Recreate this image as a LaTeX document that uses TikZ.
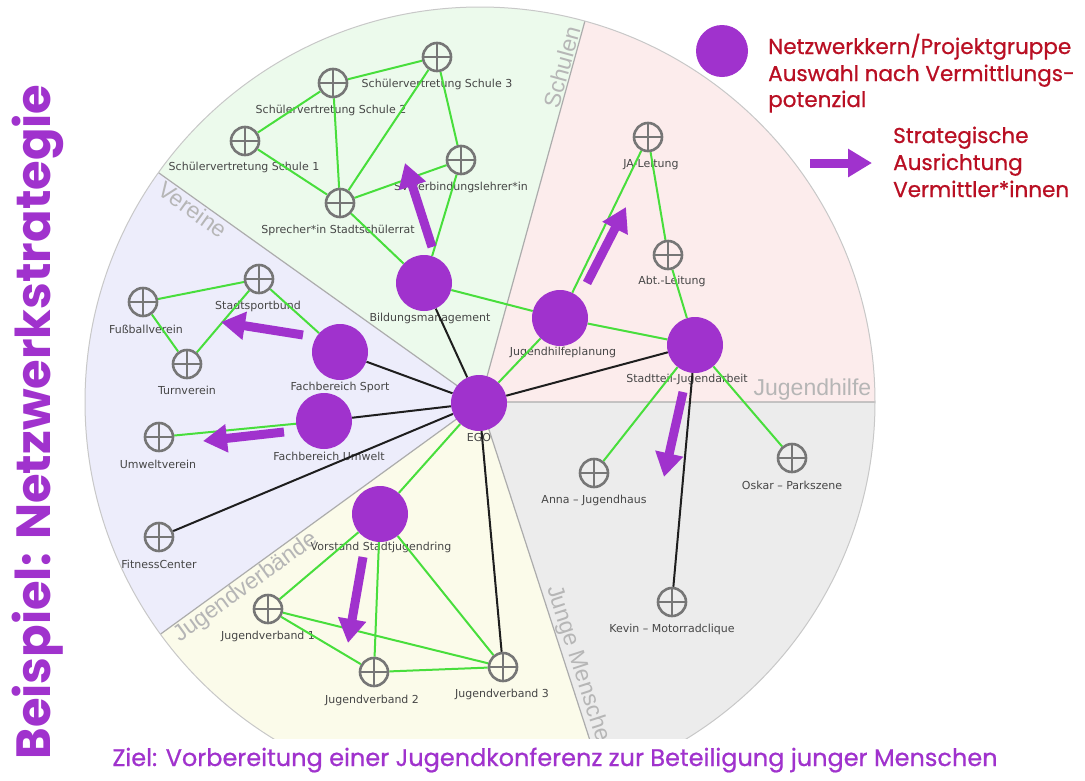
\documentclass[tikz,border=0pt]{standalone}
\usepackage{fontspec}
\setmainfont{DejaVu Sans}
\newfontfamily\popfont{Poppins}
\newfontfamily\popmed{Poppins}[FakeBold=0.7]
\newfontfamily\helv{Liberation Sans}
\usetikzlibrary{arrows.meta}
\pgfdeclarelayer{bg}
\pgfdeclarelayer{lbl}
\pgfdeclarelayer{edge}
\pgfsetlayers{bg,lbl,edge,main}
\definecolor{purp}{RGB}{160,50,205}
\definecolor{dred}{RGB}{185,15,35}
\definecolor{grn}{RGB}{72,222,60}
\definecolor{blk}{RGB}{30,30,30}
\definecolor{nodegray}{RGB}{118,118,118}
\definecolor{labgray}{RGB}{70,70,70}
\definecolor{secline}{RGB}{172,172,172}
\definecolor{circline}{RGB}{200,200,200}
\definecolor{seclabel}{RGB}{182,182,182}
\definecolor{cschule}{RGB}{236,250,236}
\definecolor{cjh}{RGB}{252,236,236}
\definecolor{cver}{RGB}{237,237,251}
\definecolor{cjv}{RGB}{251,251,234}
\definecolor{cjm}{RGB}{236,236,236}
\tikzset{
  actor/.style={circle, draw=nodegray, line width=2.6pt, minimum size=28pt, inner sep=0pt,
    path picture={\draw[nodegray,line width=2.4pt] (path picture bounding box.north) -- (path picture bounding box.south) (path picture bounding box.west) -- (path picture bounding box.east);}},
  core/.style={circle, fill=purp, minimum size=56pt, inner sep=0pt},
  nlabel/.style={font=\fontsize{11}{13}\selectfont, text=labgray, inner sep=0pt},
  gedge/.style={draw=grn, line width=2pt},
  bedge/.style={draw=blk, line width=2pt},
  strat/.style={draw=purp, line width=9pt, -{Triangle[length=24pt,width=27pt]}},
  sector/.style={font=\helv\fontsize{23}{23}\selectfont, text=seclabel, inner sep=1.5pt},
  legend/.style={font=\popmed\fontsize{21.5}{21.5}\selectfont, text=dred, inner sep=0pt, anchor=base west},
}
\begin{document}
\begin{tikzpicture}[x=1pt,y=-1pt]
\useasboundingbox (0,0) rectangle (1085,780);
\begin{pgfonlayer}{bg}
\fill[white] (0,0) rectangle (1085,780);
\begin{scope}
\clip (0,0) rectangle (1085,738);
\begin{scope}[shift={(480,402)}, y=1pt]
\clip (0,0) circle[radius=395pt];
\fill[cjh] (0,0) -- (0:600) arc[start angle=0,end angle=74.6,radius=600pt] -- cycle;
\fill[cschule] (0,0) -- (74.6:600) arc[start angle=74.6,end angle=144.5,radius=600pt] -- cycle;
\fill[cver] (0,0) -- (144.5:600) arc[start angle=144.5,end angle=216,radius=600pt] -- cycle;
\fill[cjv] (0,0) -- (216:600) arc[start angle=216,end angle=288,radius=600pt] -- cycle;
\fill[cjm] (0,0) -- (288:600) arc[start angle=288,end angle=360,radius=600pt] -- cycle;
\draw[secline, line width=1.2pt] (0,0) -- (0:400) (0,0) -- (74.6:400) (0,0) -- (144.5:400) (0,0) -- (216:400) (0,0) -- (288:400);
\node[sector, rotate=74.6, anchor=south east] (lschulen) at (74.6:388) {Schulen};
\node[sector, rotate=-35.5, anchor=north west] (lvereine) at (144.5:386) {Vereine};
\node[sector, anchor=south east] (ljh) at (0:393) {Jugendhilfe};
\node[sector, rotate=36, anchor=north west] (ljv) at (216:386) {Jugendverbände};
\node[sector, rotate=-72, anchor=south west] (ljm) at (288:196) {Junge Menschen};
\end{scope}
\draw[circline, line width=1pt] (480,402) circle[radius=395pt];
\end{scope}
\end{pgfonlayer}

% core nodes
\node[core] (ego) at (479,403) {};
\node[core] (bil) at (424,283) {};
\node[core] (jhp) at (560,318) {};
\node[core] (stj) at (695,345) {};
\node[core] (fbs) at (340,352) {};
\node[core] (fbu) at (324,421) {};
\node[core] (vor) at (380,514) {};
% actors
\node[actor] (s3) at (437,57) {};
\node[actor] (s2) at (333,83) {};
\node[actor] (s1) at (245,141) {};
\node[actor] (spr) at (340,203) {};
\node[actor] (sv) at (461,160) {};
\node[actor] (ja) at (648,137) {};
\node[actor] (abt) at (668,255) {};
\node[actor] (anna) at (594,473) {};
\node[actor] (oskar) at (792,458) {};
\node[actor] (kevin) at (672,602) {};
\node[actor] (ssb) at (259,279) {};
\node[actor] (fuss) at (143,302) {};
\node[actor] (turn) at (187,364) {};
\node[actor] (umv) at (159,437) {};
\node[actor] (fit) at (159,537) {};
\node[actor] (jv1) at (268,609) {};
\node[actor] (jv2) at (374,672) {};
\node[actor] (jv3) at (503,667) {};

\begin{pgfonlayer}{lbl}
\node[nlabel] (ego-l) at (479,437) {EGO};
\node[nlabel] (bil-l) at (430,318) {Bildungsmanagement};
\node[nlabel] (jhp-l) at (563,352) {Jugendhilfeplanung};
\node[nlabel] (stj-l) at (687,379) {Stadtteil-Jugendarbeit};
\node[nlabel] (fbs-l) at (340,387) {Fachbereich Sport};
\node[nlabel] (fbu-l) at (329,456) {Fachbereich Umwelt};
\node[nlabel] (vor-l) at (381,547) {Vorstand Stadtjugendring};
\node[nlabel] (s3-l) at (437,84) {Schülervertretung Schule 3};
\node[nlabel] (s2-l) at (331,110) {Schülervertretung Schule 2};
\node[nlabel] (s1-l) at (244,167) {Schülervertretung Schule 1};
\node[nlabel] (spr-l) at (338,230) {Sprecher*in Stadtschülerrat};
\node[nlabel] (sv-l) at (461,187) {SV-Verbindungslehrer*in};
\node[nlabel] (ja-l) at (651,164) {JA-Leitung};
\node[nlabel] (abt-l) at (672,281) {Abt.-Leitung};
\node[nlabel] (anna-l) at (594,500) {Anna – Jugendhaus};
\node[nlabel] (oskar-l) at (792,485) {Oskar – Parkszene};
\node[nlabel] (kevin-l) at (672,629) {Kevin – Motorradclique};
\node[nlabel] (ssb-l) at (258,306) {Stadtsportbund};
\node[nlabel] (fuss-l) at (146,329) {Fußballverein};
\node[nlabel] (turn-l) at (187,390) {Turnverein};
\node[nlabel] (umv-l) at (158,464) {Umweltverein};
\node[nlabel] (fit-l) at (159,564) {FitnessCenter};
\node[nlabel] (jv1-l) at (268,636) {Jugendverband 1};
\node[nlabel] (jv2-l) at (372,700) {Jugendverband 2};
\node[nlabel] (jv3-l) at (502,694) {Jugendverband 3};
\end{pgfonlayer}

\begin{pgfonlayer}{edge}
\draw[gedge] (s1) -- (s2);
\draw[gedge] (s2) -- (s3);
\draw[gedge] (s1) -- (spr);
\draw[gedge] (s2) -- (spr);
\draw[gedge] (s3) -- (spr);
\draw[gedge] (s3) -- (sv);
\draw[gedge] (spr) -- (sv);
\draw[gedge] (spr) -- (bil);
\draw[gedge] (sv) -- (bil);
\draw[gedge] (bil) -- (jhp);
\draw[gedge] (ego) -- (jhp);
\draw[gedge] (jhp) -- (ja);
\draw[gedge] (ja) -- (abt);
\draw[gedge] (abt) -- (stj);
\draw[gedge] (jhp) -- (stj);
\draw[gedge] (stj) -- (anna);
\draw[gedge] (stj) -- (oskar);
\draw[gedge] (fuss) -- (ssb);
\draw[gedge] (fuss) -- (turn);
\draw[gedge] (turn) -- (ssb);
\draw[gedge] (ssb) -- (fbs);
\draw[gedge] (fbu) -- (umv);
\draw[gedge] (ego) -- (vor);
\draw[gedge] (vor) -- (jv1);
\draw[gedge] (vor) -- (jv2);
\draw[gedge] (vor) -- (jv3);
\draw[gedge] (jv1) -- (jv2);
\draw[gedge] (jv1) -- (jv3);
\draw[gedge] (jv2) -- (jv3);
\draw[bedge] (ego) -- (bil);
\draw[bedge] (ego) -- (fbs);
\draw[bedge] (ego) -- (fbu);
\draw[bedge] (ego) -- (fit);
\draw[bedge] (ego) -- (stj);
\draw[bedge] (ego) -- (jv3);
\draw[bedge] (stj) -- (kevin);
\end{pgfonlayer}

% strategic arrows
\coordinate (a1s) at (432,247); \coordinate (a1e) at (405,163);
\coordinate (a2s) at (587,283); \coordinate (a2e) at (626,207);
\coordinate (a3s) at (303,335); \coordinate (a3e) at (221,322);
\coordinate (a4s) at (284,432); \coordinate (a4e) at (203,441);
\coordinate (a5s) at (683,392); \coordinate (a5e) at (664,477);
\coordinate (a6s) at (363,557); \coordinate (a6e) at (348,643);
\draw[strat] (a1s) -- (a1e);
\draw[strat] (a2s) -- (a2e);
\draw[strat] (a3s) -- (a3e);
\draw[strat] (a4s) -- (a4e);
\draw[strat] (a5s) -- (a5e);
\draw[strat] (a6s) -- (a6e);

% legend
\node[core, minimum size=52pt] (legc) at (722,51) {};
\node[legend] (leg1) at (768,54) {Netzwerkkern/Projektgruppe};
\node[legend] (leg2) at (768,81) {Auswahl nach Vermittlungs-};
\node[legend] (leg3) at (768,107) {potenzial};
\coordinate (lga) at (810,163); \coordinate (lgb) at (872,163);
\draw[strat] (lga) -- (lgb);
\node[legend] (leg4) at (893,143) {Strategische};
\node[legend] (leg5) at (893,170) {Ausrichtung};
\node[legend] (leg6) at (893,197) {Vermittler*innen};

% title and goal
\node[font=\popfont\bfseries\fontsize{48}{48}\selectfont, text=purp, rotate=90, anchor=base, inner sep=0pt] (title) at (50,422) {Beispiel: Netzwerkstrategie};
\node[font=\popmed\fontsize{24}{24}\selectfont, text=purp, anchor=base, inner sep=0pt] (goal) at (555,766) {Ziel: Vorbereitung einer Jugendkonferenz zur Beteiligung junger Menschen};
\end{tikzpicture}
\end{document}
